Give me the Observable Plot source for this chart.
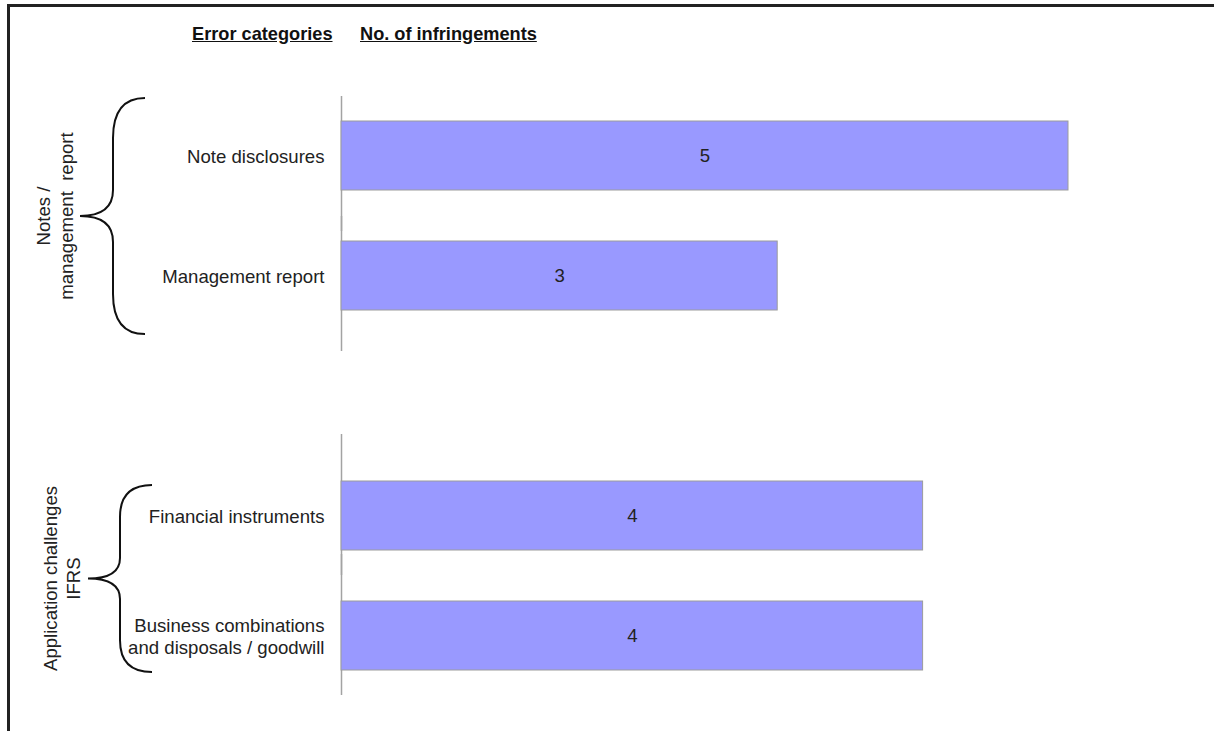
<!DOCTYPE html>
<html><head><meta charset="utf-8">
<script src="https://cdn.jsdelivr.net/npm/d3@7"></script>
<script src="https://cdn.jsdelivr.net/npm/@observablehq/plot@0.6"></script>
<style>
html,body{margin:0;padding:0;background:#fff;}
body{width:1214px;height:731px;position:relative;overflow:hidden;font-family:"Liberation Sans",Arial,sans-serif;}
#frame{position:absolute;left:7px;top:4px;right:-10px;bottom:-10px;border-left:3px solid #222;border-top:3px solid #222;}
.hdr{position:absolute;top:24px;font-size:18.2px;font-weight:bold;text-decoration:underline;line-height:20px;color:#111;white-space:nowrap;}
#chart{position:absolute;left:0;top:60px;}
#chart svg text{white-space:pre;}
</style></head><body>
<div id="frame"></div>
<div id="h0" class="hdr" style="left:192px"></div>
<div id="h1" class="hdr" style="left:360px"></div>
<div id="chart"></div>
<script>
// ---- data ----
const headers = ["Error categories", "No. of infringements"];
const categories = ["Note disclosures", "Management report", "Financial instruments", "Business combinations\nand disposals / goodwill"];
const values = [5, 3, 4, 4];
const groupNames = ["Notes /\nmanagement  report", "Application challenges\nIFRS"];
const groupOf = [0, 0, 1, 1];
const xDomain = [0, 5];

// ---- styling (not data) ----
const FS = 18.6;
const BAR_FILL = "#9999ff", BAR_STROKE = "#9c9c9c", AXIS = "#a3a3a3", INK = "#222";
const braceStyle = [
  {tipX: 80, spineX: 113, endX: 145, overTop: 23, overBottom: 24, axisTop: 25, axisBottom: 41, labelDx: -25.5},
  {tipX: 88, spineX: 120, endX: 152, overTop: -4, overBottom: 2, axisTop: 47, axisBottom: 25, labelDx: -26.5}
];

document.getElementById("h0").textContent = headers[0];
document.getElementById("h1").textContent = headers[1];

const rows = categories.map((c, i) => ({category: c, value: values[i], group: groupOf[i]}));
const GAP = "\u200bgap";
const yDomain = [];
groupNames.forEach((g, gi) => {
  if (gi > 0) yDomain.push(GAP);
  rows.filter(r => r.group === gi).forEach(r => yDomain.push(r.category));
});

const axisMarks = braceStyle.map((s, gi) =>
  Plot.tickX(rows.filter(r => r.group === gi), {x: () => 0, y: "category", stroke: AXIS, strokeWidth: 1.5, insetTop: -s.axisTop, insetBottom: -s.axisBottom})
);

const plot = Plot.plot({
  width: 1214, height: 671,
  marginLeft: 341, marginRight: 146, marginTop: 36, marginBottom: 37,
  style: {fontFamily: "Liberation Sans, Arial, sans-serif", fontSize: FS + "px", color: INK, background: "transparent", overflow: "visible"},
  x: {domain: xDomain, axis: null},
  y: {domain: yDomain, paddingInner: 0.426, paddingOuter: 0.2, axis: null},
  marks: [
    ...axisMarks,
    Plot.barX(rows, {x: "value", y: "category", fill: BAR_FILL, stroke: BAR_STROKE, strokeWidth: 1}),
    Plot.text(rows, {x: d => d.value / 2, y: "category", text: d => String(d.value), fontSize: FS, fill: INK}),
    Plot.axisY({ticks: categories, tickSize: 0, tickPadding: 17, label: null, fontSize: FS, lineHeight: 1.2, fill: INK})
  ]
});
document.getElementById("chart").appendChild(plot);

// ---- braces and group labels, positioned from the plot's y scale ----
const ys = plot.scale("y");
const bw = ys.bandwidth;
const svg = d3.select(plot);
const deco = svg.append("g");
groupNames.forEach((g, gi) => {
  const s = braceStyle[gi];
  const cats = rows.filter(r => r.group === gi).map(r => r.category);
  const top = ys.apply(cats[0]) - s.overTop;
  const bot = ys.apply(cats[cats.length - 1]) + bw + s.overBottom;
  const yc = (top + bot) / 2;
  const h = bot - top;
  const r1 = 0.17 * h, r2 = 0.11 * h;
  const p = d3.path();
  p.moveTo(s.endX, top);
  p.quadraticCurveTo(s.spineX, top, s.spineX, top + r1);
  p.lineTo(s.spineX, yc - r2);
  p.quadraticCurveTo(s.spineX, yc, s.tipX, yc);
  p.quadraticCurveTo(s.spineX, yc, s.spineX, yc + r2);
  p.lineTo(s.spineX, bot - r1);
  p.quadraticCurveTo(s.spineX, bot, s.endX, bot);
  deco.append("path").attr("d", p.toString()).attr("fill", "none").attr("stroke", "#111").attr("stroke-width", 2);

  const lines = g.split("\n");
  const lh = 23;
  const t = deco.append("text")
    .attr("transform", `translate(${s.tipX + s.labelDx},${yc}) rotate(-90)`)
    .attr("text-anchor", "middle")
    .attr("fill", INK)
    .attr("font-size", FS)
    .attr("font-family", "Liberation Sans, Arial, sans-serif");
  lines.forEach((ln, i) => {
    t.append("tspan").attr("x", 0).attr("y", (i - (lines.length - 1) / 2) * lh).attr("dy", "0.35em").text(ln);
  });
});
</script>
</body></html>
